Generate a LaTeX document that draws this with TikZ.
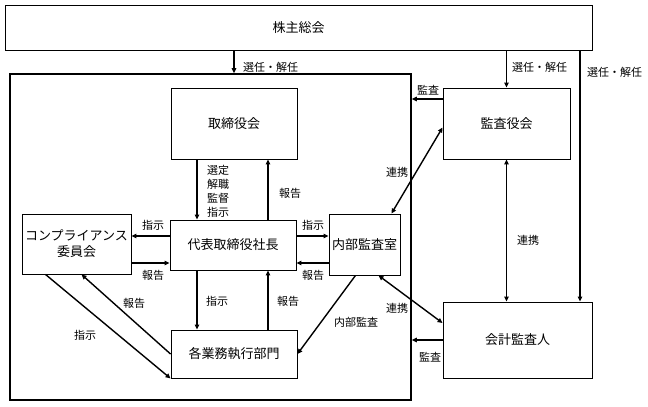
\documentclass[tikz,border=0pt]{standalone}
\usepackage{fontspec}
\setmainfont{Noto Sans CJK JP}
\usetikzlibrary{arrows.meta}

\begin{document}
\begin{tikzpicture}[x=1pt,y=-1pt]
  \tikzset{BoxStyle/.style = {draw, line width=0.9pt, inner sep=0pt, font=\fontsize{13}{16}\selectfont, align=center}}
  \tikzset{ArrowStyle/.style = {line width=1.4pt, -{Triangle[length=5pt,width=4.5pt]}}}
  \tikzset{BothStyle/.style = {line width=1.4pt, {Triangle[length=5pt,width=4.5pt]}-{Triangle[length=5pt,width=4.5pt]}}}
  \tikzset{LabelStyle/.style = {inner sep=0pt, font=\fontsize{11}{14}\selectfont, align=left}}
  \useasboundingbox (0,0) rectangle (648,407);
  \node[BoxStyle, minimum width=587pt, minimum height=45pt] (soukai) at (298.5,27.5) {株主総会};
  \node[draw, line width=1.6pt, inner sep=0pt, minimum width=401pt, minimum height=326pt] (frame) at (210.5,237) {};
  \node[BoxStyle, minimum width=126pt, minimum height=71pt] (board) at (234,123.5) {取締役会};
  \node[BoxStyle, minimum width=127pt, minimum height=71pt] (kansayaku) at (506.5,123.5) {監査役会};
  \node[BoxStyle, minimum width=126pt, minimum height=50pt] (ceo) at (233,245) {代表取締役社長};
  \node[BoxStyle, minimum width=109pt, minimum height=60pt] (comp) at (76.5,244) {コンプライアンス\\委員会};
  \node[BoxStyle, minimum width=71pt, minimum height=61pt] (naibu) at (364.5,244.5) {内部監査室};
  \node[BoxStyle, minimum width=126pt, minimum height=48pt] (bumon) at (234,354) {各業務執行部門};
  \node[BoxStyle, minimum width=149pt, minimum height=76pt] (kaikei) at (517.5,340) {会計監査人};
  \coordinate (cl) at (197,0);
  \coordinate (cr) at (268,0);
  \coordinate (rt) at (0,236);
  \coordinate (rb) at (0,263);
  \coordinate (rr) at (580,0);
  \coordinate (ka) at (0,99);
  \draw[ArrowStyle] (soukai.south -| board) -- (frame.north -| board);
  \draw[ArrowStyle] (soukai.south -| kansayaku) -- (kansayaku.north);
  \draw[ArrowStyle] (soukai.south -| rr) -- (kaikei.north -| rr);
  \draw[ArrowStyle] (board.south -| cl) -- (ceo.north -| cl);
  \draw[ArrowStyle] (ceo.north -| cr) -- (board.south -| cr);
  \draw[ArrowStyle] (ceo.west |- rt) -- (comp.east |- rt);
  \draw[ArrowStyle] (comp.east |- rb) -- (ceo.west |- rb);
  \draw[ArrowStyle] (ceo.east |- rt) -- (naibu.west |- rt);
  \draw[ArrowStyle] (naibu.west |- rb) -- (ceo.east |- rb);
  \draw[ArrowStyle] (ceo.south -| cl) -- (bumon.north -| cl);
  \draw[ArrowStyle] (bumon.north -| cr) -- (ceo.south -| cr);
  \draw[ArrowStyle] ([xshift=-31pt]comp.south) -- (bumon.south west);
  \draw[ArrowStyle] (bumon.west) -- ([xshift=5pt]comp.south);
  \draw[ArrowStyle] ([xshift=-9pt]naibu.south) -- (bumon.east);
  \draw[BothStyle] ([xshift=14pt]naibu.south) -- ([yshift=17pt]kaikei.west);
  \draw[BothStyle] ([xshift=-9pt]naibu.north east) -- ([yshift=-4pt]kansayaku.west);
  \draw[BothStyle] (kansayaku.south) -- (kaikei.north -| kansayaku);
  \draw[ArrowStyle] (kansayaku.west |- ka) -- (frame.east |- ka);
  \draw[ArrowStyle] (kaikei.west) -- (frame.east |- kaikei.west);
  \node[LabelStyle, anchor=west] (l1) at (243,67) {選任・解任};
  \node[LabelStyle, anchor=west] (l2) at (512,67) {選任・解任};
  \node[LabelStyle, anchor=west] (l3) at (587,72) {選任・解任};
  \node[LabelStyle, anchor=west] (l4) at (207,191) {選定\\解職\\監督\\指示};
  \node[LabelStyle] (l5) at (290,193) {報告};
  \node[LabelStyle] (l6) at (153,225) {指示};
  \node[LabelStyle] (l7) at (153,275) {報告};
  \node[LabelStyle] (l8) at (313,225) {指示};
  \node[LabelStyle] (l9) at (313,275) {報告};
  \node[LabelStyle] (l10) at (217,301) {指示};
  \node[LabelStyle] (l11) at (288,301) {報告};
  \node[LabelStyle] (l12) at (134,303) {報告};
  \node[LabelStyle] (l13) at (85,335) {指示};
  \node[LabelStyle] (l14) at (356,322) {内部監査};
  \node[LabelStyle] (l15) at (397,308) {連携};
  \node[LabelStyle] (l16) at (430,357) {監査};
  \node[LabelStyle] (l17) at (428,90) {監査};
  \node[LabelStyle] (l18) at (397,172) {連携};
  \node[LabelStyle] (l19) at (528,240) {連携};
\end{tikzpicture}
\end{document}
